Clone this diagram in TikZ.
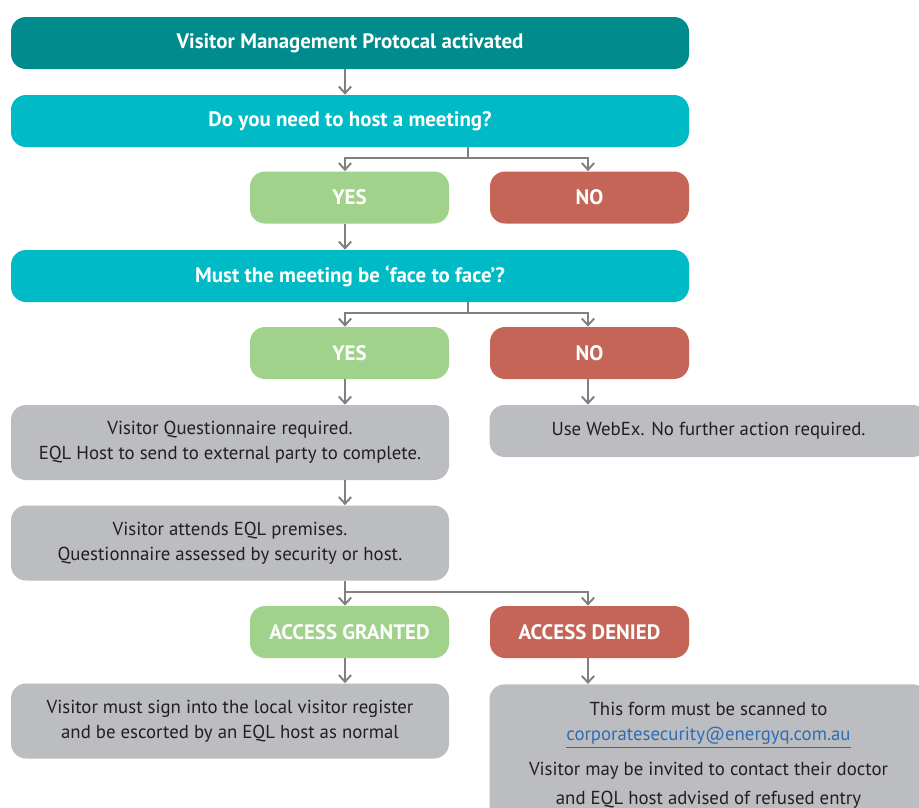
\documentclass[tikz,border=0pt]{standalone}
\usepackage{fontspec}
\setmainfont{PT Sans}
\usetikzlibrary{arrows.meta}
\definecolor{tealdark}{RGB}{0,139,141}
\definecolor{tealbright}{RGB}{0,187,197}
\definecolor{yesgreen}{RGB}{161,210,140}
\definecolor{nored}{RGB}{197,101,87}
\definecolor{boxgray}{RGB}{188,189,192}
\definecolor{linegray}{RGB}{128,128,128}
\definecolor{textdark}{RGB}{35,31,32}
\definecolor{maillink}{RGB}{46,109,180}
\begin{document}
\begin{tikzpicture}[
  box/.style={rounded corners=0.3cm, inner sep=0pt, align=center, font=\fontsize{10.7}{14.2}\selectfont},
  head/.style={box, text=white, font=\bfseries\fontsize{11.9}{14}\selectfont, minimum width=13.56cm, minimum height=1.04cm},
  answer/.style={box, text=white, font=\bfseries\fontsize{11.9}{14}\selectfont, minimum width=3.98cm, minimum height=1.04cm},
  note/.style={box, fill=boxgray, text=textdark, minimum width=8.76cm, minimum height=1.5cm},
  line/.style={draw=linegray, line width=1.1pt},
  arr/.style={line, -{Straight Barb[length=3.8pt, width=7pt]}}]
\clip (0,0) rectangle (18.38,-16.16);
\fill[white] (0,0) rectangle (18.38,-16.16);
% x positions of the connectors
\coordinate (lx) at (6.9,0);
\coordinate (mx) at (9.36,0);
\coordinate (rx) at (11.76,0);
% first question
\node[head, fill=tealdark] (start) at (7.0,-0.86) {Visitor Management Protocal activated};
\node[head, fill=tealbright] (host) at (7.0,-2.42) {Do you need to host a meeting?};
\node[answer, fill=yesgreen] (yes1) at (6.99,-3.95) {YES};
\node[answer, fill=nored] (no1) at (11.79,-3.95) {NO};
% second question
\node[head, fill=tealbright] (face) at (7.0,-5.52) {Must the meeting be `face to face'?};
\node[answer, fill=yesgreen] (yes2) at (6.99,-7.06) {YES};
\node[answer, fill=nored] (no2) at (11.79,-7.06) {NO};
% questionnaire
\node[note] (quest) at (4.6,-8.85) {Visitor Questionnaire required.\\EQL Host to send to external party to complete.};
\node[note, minimum height=1.04cm] (webex) at (14.17,-8.62) {Use WebEx. No further action required.};
\node[note] (attend) at (4.6,-10.86) {Visitor attends EQL premises.\\Questionnaire assessed by security or host.};
% outcome
\node[answer, fill=yesgreen] (granted) at (6.99,-12.64) {ACCESS GRANTED};
\node[answer, fill=nored] (denied) at (11.79,-12.64) {ACCESS DENIED};
\node[note] (sign) at (4.6,-14.42) {Visitor must sign into the local visitor register\\and be escorted by an EQL host as normal};
\node[note, minimum height=2.7cm, anchor=north] (form) at (14.17,-13.68) {};
\node[text=textdark, font=\fontsize{10.7}{14.2}\selectfont, align=center, anchor=north] (formtxt) at (14.17,-13.92)
  {This form must be scanned to\\{\color{maillink}\underline{corporatesecurity@energyq.com.au}}\\[6pt]
   Visitor may be invited to contact their doctor\\[2pt]and EQL host advised of refused entry};
% connectors
\draw[arr] (start.south -| lx) -- (host.north -| lx);
\draw[line] (host.south -| mx) -- ++(0,-0.22) coordinate (j1);
\draw[arr] (j1) -| (yes1.north -| lx);
\draw[arr] (j1) -| (no1.north -| rx);
\draw[arr] (yes1.south -| lx) -- (face.north -| lx);
\draw[line] (face.south -| mx) -- ++(0,-0.22) coordinate (j2);
\draw[arr] (j2) -| (yes2.north -| lx);
\draw[arr] (j2) -| (no2.north -| rx);
\draw[arr] (yes2.south -| lx) -- (quest.north -| lx);
\draw[arr] (no2.south -| rx) -- (webex.north -| rx);
\draw[arr] (quest.south -| lx) -- (attend.north -| lx);
\draw[arr] (attend.south -| lx) -- (granted.north -| lx);
\draw[line] (attend.south -| lx) ++(0,-0.22) coordinate (j3);
\draw[arr] (j3) -| (denied.north -| rx);
\draw[arr] (granted.south -| lx) -- (sign.north -| lx);
\draw[arr] (denied.south -| rx) -- (form.north -| rx);
\end{tikzpicture}
\end{document}
